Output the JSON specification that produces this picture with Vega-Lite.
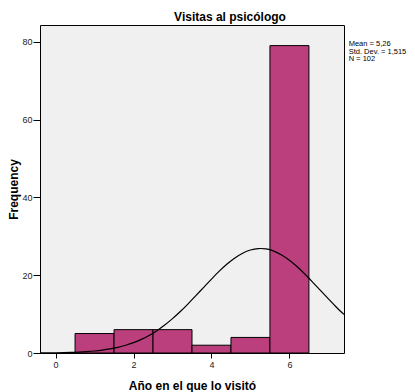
{
  "$schema": "https://vega.github.io/schema/vega-lite/v6.json",
  "width": 304,
  "height": 328,
  "autosize": {"type": "none"},
  "padding": {"left": 40, "top": 25, "right": 71, "bottom": 39},
  "background": "white",
  "config": {
    "font": "Liberation Sans",
    "view": {"fill": "#F0F0F0", "stroke": "black", "strokeWidth": 1},
    "axis": {"grid": false, "domain": false, "tickColor": "black", "labelColor": "#222222", "labelFontSize": 9, "titleFontSize": 12, "titleFontWeight": "bold", "titleColor": "black", "labelFont": "Liberation Sans", "titleFont": "Liberation Sans"}
  },
  "title": {"text": "Visitas al psicólogo", "fontSize": 12, "fontWeight": "bold", "anchor": "middle", "dx": 38, "offset": 1, "color": "black", "font": "Liberation Sans"},
  "datasets": {
    "bars": [
      {"bin_start": 0.5, "bin_end": 1.5, "count": 5},
      {"bin_start": 1.5, "bin_end": 2.5, "count": 6},
      {"bin_start": 2.5, "bin_end": 3.5, "count": 6},
      {"bin_start": 3.5, "bin_end": 4.5, "count": 2},
      {"bin_start": 4.5, "bin_end": 5.5, "count": 4},
      {"bin_start": 5.5, "bin_end": 6.5, "count": 79}
    ],
    "curve": [
      {"x": -0.4, "y": 0.025}, {"x": -0.2, "y": 0.041}, {"x": 0.0, "y": 0.065}, {"x": 0.2, "y": 0.102},
      {"x": 0.4, "y": 0.156}, {"x": 0.6, "y": 0.237}, {"x": 0.8, "y": 0.352}, {"x": 1.0, "y": 0.516},
      {"x": 1.2, "y": 0.740}, {"x": 1.4, "y": 1.046}, {"x": 1.6, "y": 1.451}, {"x": 1.8, "y": 1.980},
      {"x": 2.0, "y": 2.653}, {"x": 2.2, "y": 3.493}, {"x": 2.4, "y": 4.520}, {"x": 2.6, "y": 5.750},
      {"x": 2.8, "y": 7.188}, {"x": 3.0, "y": 8.828}, {"x": 3.2, "y": 10.657}, {"x": 3.4, "y": 12.641},
      {"x": 3.6, "y": 14.737}, {"x": 3.8, "y": 16.883}, {"x": 4.0, "y": 19.006}, {"x": 4.2, "y": 21.028},
      {"x": 4.4, "y": 22.864}, {"x": 4.6, "y": 24.428}, {"x": 4.8, "y": 25.650}, {"x": 5.0, "y": 26.467},
      {"x": 5.2, "y": 26.839}, {"x": 5.26, "y": 26.86}, {"x": 5.4, "y": 26.746}, {"x": 5.6, "y": 26.192},
      {"x": 5.8, "y": 25.207}, {"x": 6.0, "y": 23.840}, {"x": 6.2, "y": 22.157}, {"x": 6.4, "y": 20.238},
      {"x": 6.6, "y": 18.164}, {"x": 6.8, "y": 16.023}, {"x": 7.0, "y": 13.889}, {"x": 7.2, "y": 11.831},
      {"x": 7.4, "y": 9.905}
    ]
  },
  "layer": [
    {
      "data": {"name": "bars"},
      "mark": {"type": "rect", "fill": "#BB3F7D", "stroke": "black", "strokeWidth": 1},
      "encoding": {
        "x": {"field": "bin_start", "type": "quantitative", "scale": {"domain": [-0.4, 7.4], "nice": false, "zero": false},
              "axis": {"values": [0, 2, 4, 6], "tickSize": 5, "labelPadding": 2, "title": "Año en el que lo visitó", "titlePadding": 11}},
        "x2": {"field": "bin_end"},
        "y": {"field": "count", "type": "quantitative", "scale": {"domain": [0, 84.3], "nice": false},
              "axis": {"values": [0, 20, 40, 60, 80], "tickSize": 7, "labelPadding": 1, "title": "Frequency", "titlePadding": 1}},
        "y2": {"datum": 0}
      }
    },
    {
      "data": {"name": "curve"},
      "mark": {"type": "line", "color": "black", "strokeWidth": 1.2, "interpolate": "monotone"},
      "encoding": {
        "x": {"field": "x", "type": "quantitative"},
        "y": {"field": "y", "type": "quantitative"}
      }
    },
    {
      "data": {"values": [{"label": "stats"}]},
      "mark": {"type": "text", "align": "left", "baseline": "top", "fontSize": 7.5, "lineHeight": 7.5, "color": "black", "font": "Liberation Sans"},
      "encoding": {
        "x": {"datum": 7.52},
        "y": {"datum": 80.4},
        "text": {"value": ["Mean = 5,26", "Std. Dev. = 1,515", "N = 102"]}
      }
    }
  ]
}
